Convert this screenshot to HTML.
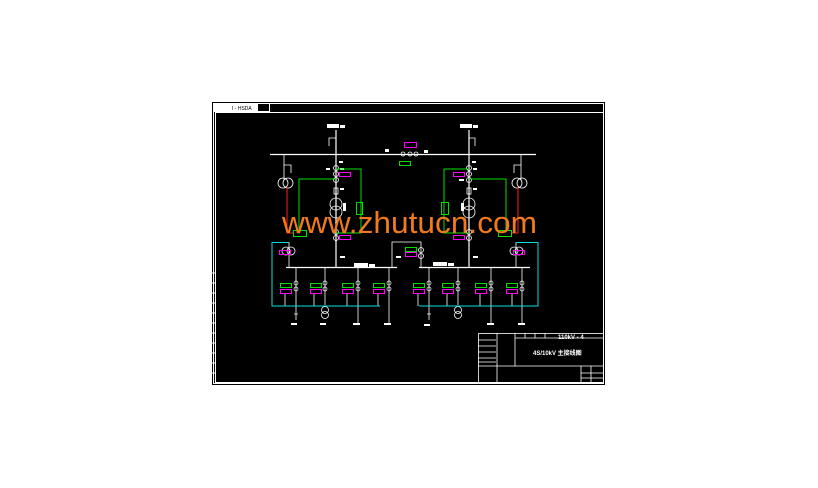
<!DOCTYPE html>
<html><head><meta charset="utf-8"><style>
html,body{margin:0;padding:0;background:#fff;width:818px;height:488px;overflow:hidden}
svg{display:block}
text{font-family:"Liberation Sans",sans-serif}
</style></head><body>
<svg width="818" height="488" viewBox="0 0 818 488" xmlns="http://www.w3.org/2000/svg">
<rect x="212" y="102" width="393" height="283" fill="#000"/>
<g fill="none" stroke="#fff" stroke-width="1">
<rect x="213.5" y="103.5" width="390" height="280"/>
<rect x="215.5" y="112.5" width="388" height="270"/>
<rect x="214.5" y="103.5" width="43" height="8" fill="#fff"/>
<rect x="257.5" y="103.5" width="12" height="8"/>
<!-- left tick marks -->
<path d="M212 273h3M212 283h3M212 293h3M212 303h3M212 313h3M212 323h3M212 333h3M212 343h3M212 353h3M212 363h3M212 373h3"/>
</g>
<text x="232" y="110" font-size="5" fill="#000">I - HSDA</text>

<!-- HV bus -->
<g stroke="#fff" fill="none" stroke-width="1.2">
<line x1="270" y1="154.5" x2="536" y2="154.5"/>
<line x1="336" y1="130" x2="336" y2="268"/>
<line x1="469" y1="130" x2="469" y2="268"/>
<line x1="286" y1="267.5" x2="397" y2="267.5"/>
<line x1="419" y1="267.5" x2="530" y2="267.5"/>
</g>
<g stroke="#fff" fill="none" stroke-width="0.8">
<!-- top incoming taps -->
<path d="M336 138h-7v8M469 138h6v8"/>
<!-- PT branches -->
<path d="M284 154v26M284 165h7v8M521 154v26M521 165h-7v8"/>
<circle cx="283" cy="183" r="5"/><circle cx="288" cy="183" r="5"/>
<circle cx="517" cy="183" r="5"/><circle cx="522" cy="183" r="5"/>
<!-- main CTs -->
<circle cx="336" cy="168" r="2.5"/><circle cx="336" cy="174" r="2.5"/><circle cx="336" cy="180" r="2.5"/>
<circle cx="469" cy="168" r="2.5"/><circle cx="469" cy="174" r="2.5"/><circle cx="469" cy="180" r="2.5"/>
<rect x="334" y="188" width="4" height="6"/><rect x="467" y="188" width="4" height="6"/>
<circle cx="336" cy="204" r="6"/><circle cx="336" cy="212" r="6"/>
<circle cx="469" cy="204" r="6"/><circle cx="469" cy="212" r="6"/>
<circle cx="336" cy="232" r="2.5"/><circle cx="336" cy="238" r="2.5"/>
<circle cx="469" cy="232" r="2.5"/><circle cx="469" cy="238" r="2.5"/>
<!-- LV PTs -->
<path d="M289 242v25M516 242v25"/>
<circle cx="286" cy="251" r="4"/><circle cx="291" cy="251" r="4"/>
<circle cx="514" cy="251" r="4"/><circle cx="519" cy="251" r="4"/>
<!-- bus tie -->
<path d="M392 267v-25h29v25M421 247v0"/>
<circle cx="421" cy="250" r="2.5"/><circle cx="421" cy="256" r="2.5"/>
<!-- center breaker -->
<circle cx="403" cy="154" r="2"/><circle cx="410" cy="154" r="2"/><circle cx="416" cy="154" r="2"/>
<!-- feeders -->
<path d="M296 267v47M325 267v38M358 267v56M389 267v56M429 267v47M458 267v38M491 267v56M522 267v56"/>
<circle cx="325" cy="310" r="3.5"/><circle cx="325" cy="315" r="3.5"/>
<circle cx="458" cy="310" r="3.5"/><circle cx="458" cy="315" r="3.5"/>
<path d="M294 314h4M427 314h4M296 314l0 6M429 314l0 6"/>
<path d="M285 293v13M314 293v13M347 293v13M378 293v13M418 293v13M447 293v13M480 293v13M512 293v13"/>
</g>
<g fill="none" stroke="#fff" stroke-width="0.7">
<circle cx="296" cy="283" r="2"/><circle cx="296" cy="289" r="2"/>
<circle cx="325" cy="283" r="2"/><circle cx="325" cy="289" r="2"/>
<circle cx="358" cy="283" r="2"/><circle cx="358" cy="289" r="2"/>
<circle cx="389" cy="283" r="2"/><circle cx="389" cy="289" r="2"/>
<circle cx="429" cy="283" r="2"/><circle cx="429" cy="289" r="2"/>
<circle cx="458" cy="283" r="2"/><circle cx="458" cy="289" r="2"/>
<circle cx="491" cy="283" r="2"/><circle cx="491" cy="289" r="2"/>
<circle cx="522" cy="283" r="2"/><circle cx="522" cy="289" r="2"/>
</g>
<!-- white labels -->
<g fill="#fff">
<rect x="327" y="124" width="12" height="4"/><rect x="340" y="125" width="5" height="3"/>
<rect x="460" y="124" width="12" height="4"/><rect x="473" y="125" width="5" height="3"/>
<rect x="354" y="263" width="14" height="4"/><rect x="369" y="264" width="6" height="3"/>
<rect x="433" y="262" width="14" height="4"/><rect x="448" y="263" width="6" height="3"/>
<rect x="291" y="323" width="6" height="2"/><rect x="320" y="323" width="6" height="2"/>
<rect x="353" y="323" width="7" height="2"/><rect x="384" y="323" width="7" height="2"/>
<rect x="424" y="324" width="6" height="2"/><rect x="487" y="323" width="7" height="2"/>
<rect x="518" y="323" width="7" height="2"/>
<rect x="339" y="161" width="4" height="2"/><rect x="472" y="161" width="4" height="2"/>
<rect x="326" y="168" width="4" height="2"/><rect x="340" y="168" width="4" height="2"/>
<rect x="473" y="168" width="4" height="2"/><rect x="459" y="179" width="5" height="2"/>
<rect x="343" y="203" width="3" height="8"/><rect x="461" y="203" width="3" height="8"/>
<rect x="340" y="188" width="4" height="2"/><rect x="473" y="188" width="4" height="2"/>
<rect x="340" y="256" width="5" height="2"/><rect x="473" y="256" width="5" height="2"/>
<rect x="396" y="256" width="5" height="2"/>
<rect x="385" y="149" width="4" height="3"/><rect x="424" y="150" width="4" height="3"/>
</g>
<!-- green -->
<g fill="none" stroke="#00e000" stroke-width="1">
<path d="M336 169h25v64h-25"/>
<path d="M336 179h-37v54h1"/>
<rect x="293.5" y="230.5" width="13" height="6"/>
<rect x="356.5" y="202.5" width="6" height="12"/>
<path d="M469 169h-25v64h25"/>
<path d="M469 179h37v51"/>
<rect x="498.5" y="230.5" width="13" height="6"/>
<rect x="441.5" y="202.5" width="7" height="12"/>
<rect x="399.5" y="161.5" width="11" height="4"/>
<rect x="405.5" y="247.5" width="11" height="4"/>
<g>
<rect x="280.5" y="283.5" width="11" height="4"/><rect x="310.5" y="283.5" width="11" height="4"/>
<rect x="342.5" y="283.5" width="11" height="4"/><rect x="373.5" y="283.5" width="11" height="4"/>
<rect x="413.5" y="283.5" width="11" height="4"/><rect x="442.5" y="283.5" width="11" height="4"/>
<rect x="475.5" y="283.5" width="11" height="4"/><rect x="506.5" y="283.5" width="11" height="4"/>
</g>
</g>
<!-- magenta -->
<g fill="none" stroke="#ff00ff" stroke-width="1">
<rect x="339.5" y="172.5" width="11" height="4"/><rect x="339.5" y="235.5" width="11" height="4"/>
<rect x="453.5" y="172.5" width="11" height="4"/><rect x="453.5" y="235.5" width="11" height="4"/>
<rect x="404.5" y="142.5" width="12" height="5"/>
<rect x="405.5" y="252.5" width="11" height="4"/>
<rect x="279.5" y="250.5" width="11" height="4"/><rect x="513.5" y="250.5" width="11" height="4"/>
<rect x="280.5" y="289.5" width="11" height="4"/><rect x="310.5" y="289.5" width="11" height="4"/>
<rect x="342.5" y="289.5" width="11" height="4"/><rect x="373.5" y="289.5" width="11" height="4"/>
<rect x="413.5" y="289.5" width="11" height="4"/><rect x="442.5" y="289.5" width="11" height="4"/>
<rect x="475.5" y="289.5" width="11" height="4"/><rect x="506.5" y="289.5" width="11" height="4"/>
</g>
<!-- red -->
<g stroke="#ff2020" stroke-width="1" fill="none">
<path d="M287 187v46h6"/><path d="M518 187v46h-6"/>
</g>
<!-- cyan -->
<g stroke="#00e0e0" stroke-width="1" fill="none">
<path d="M289 242.5h-17v63.5h108"/>
<path d="M516 242.5h22v63.5h-119"/>
</g>
<!-- title block -->
<g fill="none" stroke="#fff" stroke-width="0.8">
<rect x="478.5" y="333.5" width="125" height="49"/>
<path d="M478 366h125M497 333v50M515 338h88M515 333v33M525 333v5M535 333v5M545 333v5M553 338v0M581 366v17M591 366v17M581 373h22M581 378h22M478 340h18M478 346h18M478 352h18M478 358h18M478 362h18"/>
</g>
<text x="558" y="339" font-size="6" fill="#fff" font-weight="bold">110kV - 4</text>
<text x="533" y="355" font-size="6" fill="#fff" font-weight="bold">4S/10kV 主接线图</text>
<!-- watermark -->
<text x="282" y="233" font-size="31" fill="#f07a1c" textLength="255" lengthAdjust="spacingAndGlyphs">www.zhutucn.com</text>
</svg>
</body></html>
